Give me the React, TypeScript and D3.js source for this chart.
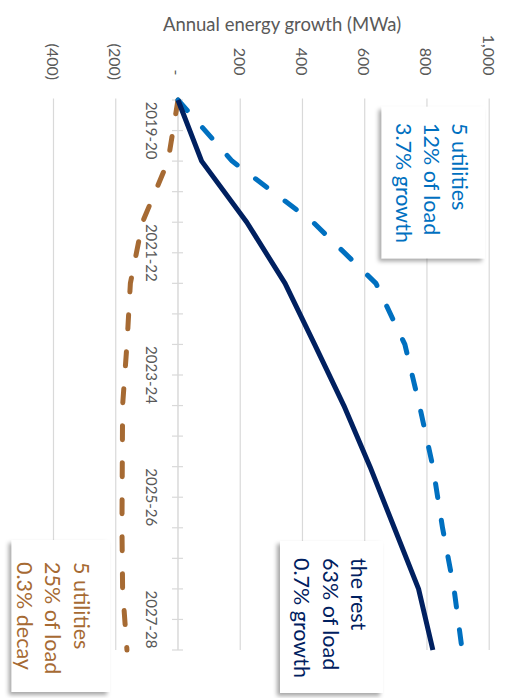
import React from "react";
import * as d3 from "d3";

// Fiscal years along the category axis; every other one is labelled.
const periods = ["2019-20", "2020-21", "2021-22", "2022-23", "2023-24", "2024-25", "2025-26", "2026-27", "2027-28"];
const labelledPeriods = ["2019-20", "2021-22", "2023-24", "2025-26", "2027-28"];

// Cumulative annual energy growth (MWa) at each period boundary, from the base year.
const growthSmallGrowers = [0, 174, 434, 636, 729, 776, 819, 850, 887, 913];
const growthRest = [0, 76, 221, 344, 439, 533, 617, 695, 773, 819];
const growthDecliners = [0, -32, -114, -153, -164, -178, -179, -180, -178, -164];

const valueTicks = [-400, -200, 0, 200, 400, 600, 800, 1000];

const noteSmallGrowers = ["5 utilities", "12% of load", "3.7% growth"];
const noteRest = ["the rest", "63% of load", "0.7% growth"];
const noteDecliners = ["5 utilities", "25% of load", "0.3% decay"];

const BLUE = "#0070C0";
const NAVY = "#002060";
const BROWN = "#A66A33";
const GRID = "#D9D9D9";
const TEXT = "#595959";
const FONT = "Lato, 'Open Sans', sans-serif";

const W = 508;
const H = 698;

function accounting(v: number): string {
  if (v === 0) return "-";
  const s = d3.format(",")(Math.abs(v));
  return v < 0 ? `(${s})` : s;
}

export default function App() {
  const x = d3.scaleLinear().domain([-400, 1000]).range([53.5, 489.2]);
  const y = d3.scaleLinear().domain([0, periods.length]).range([100, 650]);

  const line = d3
    .line<number>()
    .x((v) => x(v))
    .y((_, i) => y(i));

  const tickPositions = d3.range(0, periods.length + 0.001, 0.5);

  const noteBox = (
    lines: string[],
    color: string,
    bx: number,
    by: number,
    bw: number,
    bh: number,
    firstX: number,
    textY: number
  ) => (
    <g>
      <rect x={bx} y={by} width={bw} height={bh} fill="#fff" filter="url(#shadow)" />
      {lines.map((t, i) => (
        <text
          key={i}
          transform={`translate(${firstX - i * 28.3},${textY}) rotate(90)`}
          dominantBaseline="central"
          fill={color}
          fontSize={21.5}
          fontFamily={FONT}
        >
          {t}
        </text>
      ))}
    </g>
  );

  return (
    <svg
      width={W}
      height={H}
      style={{ position: "absolute", left: 0, top: 0, background: "#fff" }}
    >
      <defs>
        <filter id="shadow" x="-20%" y="-20%" width="140%" height="140%">
          <feDropShadow dx={-3} dy={3} stdDeviation={2} floodColor="#000" floodOpacity={0.35} />
        </filter>
      </defs>
      <rect width={W} height={H} fill="#fff" />

      <text x={282} y={31} textAnchor="middle" fill={TEXT} fontSize={18.5} fontFamily={FONT}>
        Annual energy growth (MWa)
      </text>

      {/* value gridlines */}
      {valueTicks
        .filter((v) => v !== 0)
        .map((v) => (
          <line key={v} x1={x(v)} x2={x(v)} y1={y(0) - 1.5} y2={y(periods.length)} stroke={GRID} strokeWidth={1.2} />
        ))}

      {/* value tick labels */}
      {valueTicks.map((v) => (
        <text
          key={v}
          transform={`translate(${x(v)},${v < 0 ? 80 : 75.5}) rotate(90)`}
          textAnchor="end"
          dominantBaseline="central"
          fill={TEXT}
          fontSize={16}
          fontFamily={FONT}
        >
          {accounting(v)}
        </text>
      ))}

      {/* category axis at zero */}
      <line x1={x(0)} x2={x(0)} y1={y(0)} y2={y(periods.length)} stroke={GRID} strokeWidth={1.5} />
      {tickPositions.map((t) => (
        <line key={t} x1={x(0) - 6} x2={x(0) + 5} y1={y(t)} y2={y(t)} stroke={GRID} strokeWidth={1.2} />
      ))}
      {labelledPeriods.map((p) => (
        <text
          key={p}
          transform={`translate(${x(0) - 26},${y(periods.indexOf(p) + 0.5)}) rotate(90)`}
          textAnchor="middle"
          dominantBaseline="central"
          fill={TEXT}
          fontSize={15}
          fontFamily={FONT}
        >
          {p}
        </text>
      ))}

      {/* series */}
      <path d={line(growthDecliners) ?? ""} fill="none" stroke={BROWN} strokeWidth={5} strokeDasharray="14 23" strokeLinecap="round" strokeLinejoin="round" />
      <path d={line(growthSmallGrowers) ?? ""} fill="none" stroke={BLUE} strokeWidth={5} strokeDasharray="14 23" strokeLinecap="round" strokeLinejoin="round" />
      <path d={line(growthRest) ?? ""} fill="none" stroke={NAVY} strokeWidth={5} strokeLinejoin="round" />

      {/* annotations */}
      {noteBox(noteSmallGrowers, BLUE, 381.7, 106.7, 103.3, 151.6, 460.3, 123)}
      {noteBox(noteRest, NAVY, 280, 541, 103, 152, 359, 558)}
      {noteBox(noteDecliners, BROWN, 11.7, 540, 98.3, 152, 81.7, 562)}
    </svg>
  );
}
